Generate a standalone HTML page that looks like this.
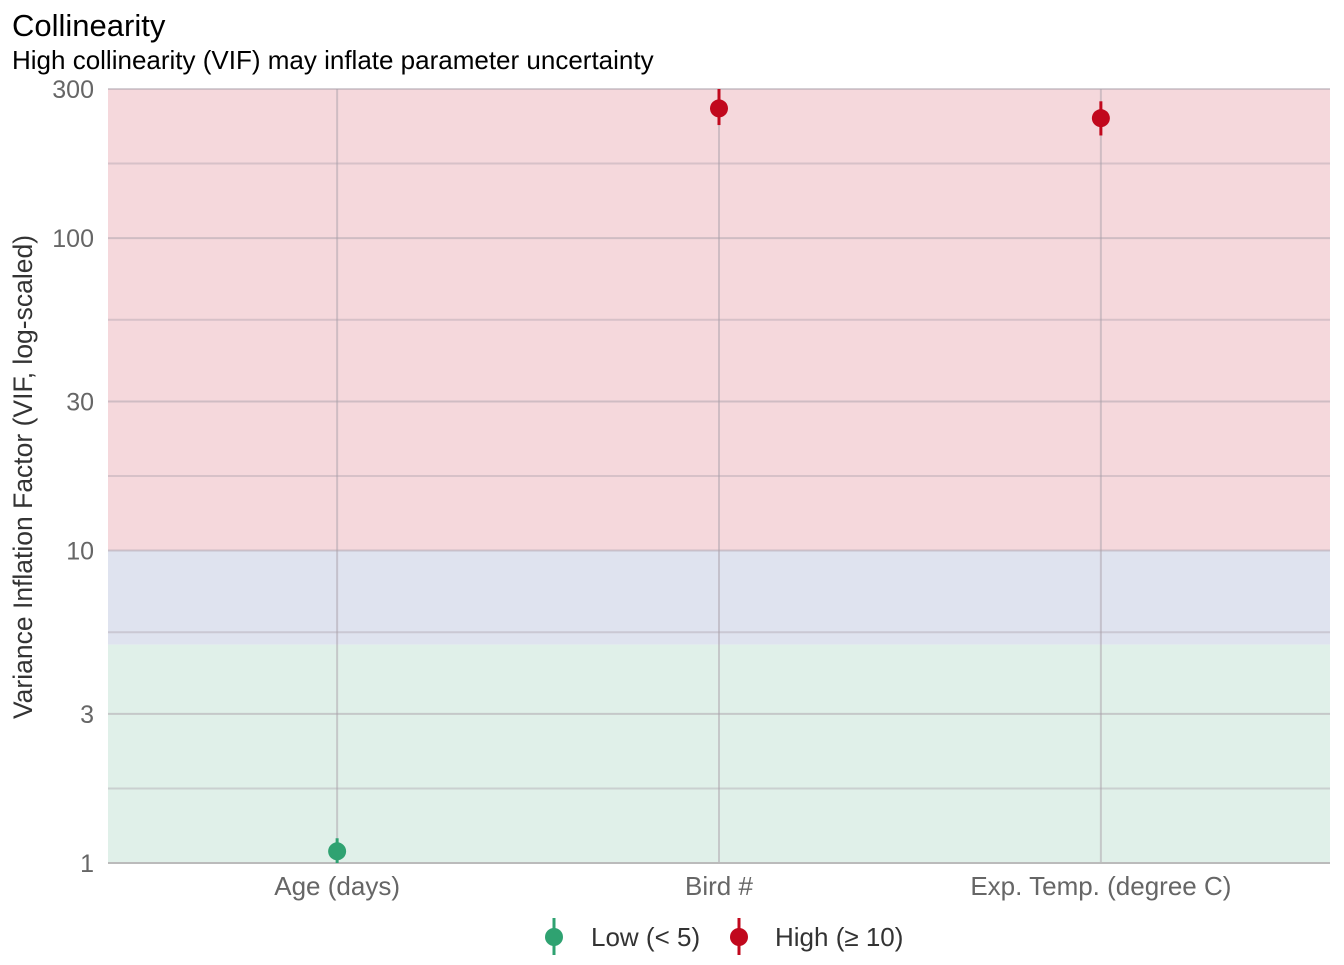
<!DOCTYPE html>
<html><head><meta charset="utf-8"><style>
body{margin:0;background:#fff;font-family:"Liberation Sans",Arial,sans-serif}
svg text{font-family:"Liberation Sans",Arial,sans-serif}
</style></head><body>
<svg id="chart" width="1344" height="960" viewBox="0 0 1344 960">
<text x="12" y="36" font-size="31" fill="#000">Collinearity</text>
<text x="12" y="69" font-size="26" fill="#000">High collinearity (VIF) may inflate parameter uncertainty</text>
<g id="plot"></g>
<text transform="translate(32,477) rotate(-90)" text-anchor="middle" font-size="26.5" fill="#333">Variance Inflation Factor (VIF, log-scaled)</text>
<g>
 <g>
  <line x1="554" y1="918" x2="554" y2="955" stroke="#2fa271" stroke-width="3"/>
  <circle cx="554" cy="937" r="9" fill="#2fa271"/>
  <text x="591" y="946" font-size="26" fill="#333">Low (&lt; 5)</text>
 </g>
 <g>
  <line x1="739" y1="918" x2="739" y2="955" stroke="#c1081d" stroke-width="3"/>
  <circle cx="739" cy="937" r="9" fill="#c1081d"/>
  <text x="775" y="946" font-size="26" fill="#333">High (≥ 10)</text>
 </g>
</g>
</svg>
<script>
const categories=["Age (days)","Bird #","Exp. Temp. (degree C)"];
const vif=[1.09,260,242];
const ciLow=[1.0,230,213];
const ciHigh=[1.2,300,274];
const groups=["low","high","high"];
const yTicks=[1,3,10,30,100,300];
const yMinor=[Math.sqrt(3),Math.sqrt(30),Math.sqrt(300),Math.sqrt(3000),Math.sqrt(30000)];
const bands=[[1,5,"#e0f0e9"],[5,10,"#dfe3ef"],[10,300,"#f5d8dc"]];
const L=108,R=1330,T=89,B=863;
const yMin=1,yMax=300;
function y(v){return B-(Math.log10(v)-Math.log10(yMin))/(Math.log10(yMax)-Math.log10(yMin))*(B-T);}
function x(i){const u=(R-L)/(categories.length-1+1.2);return L+(i+0.6)*u;}
const NS="http://www.w3.org/2000/svg";
const g=document.getElementById("plot");
function mk(tag,attrs,parent){const e=document.createElementNS(NS,tag);for(const k in attrs)e.setAttribute(k,attrs[k]);(parent||g).appendChild(e);return e;}
bands.forEach((b,i)=>{const r=mk("rect",{x:L,y:y(b[1]),width:R-L,height:y(b[0])-y(b[1]),fill:b[2]});

});
yMinor.forEach(v=>{const l=mk("line",{x1:L,x2:R,y1:y(v),y2:y(v),stroke:"rgba(170,160,170,0.4)","stroke-width":2});

});
yTicks.forEach(v=>{const l=mk("line",{x1:L,x2:R,y1:y(v),y2:y(v),stroke:"rgba(170,160,170,0.5)","stroke-width":2});


const t=mk("text",{x:94,y:y(v)+9,"text-anchor":"end","font-size":25,fill:"#666"});t.textContent=v;

});
categories.forEach((c,i)=>{const l=mk("line",{x1:x(i),x2:x(i),y1:T,y2:B,stroke:"rgba(170,160,170,0.5)","stroke-width":2});


const t=mk("text",{x:x(i),y:895,"text-anchor":"middle","font-size":26,fill:"#666"});t.textContent=c;

});
const ax=mk("line",{x1:L,x2:R,y1:B,y2:B,stroke:"#bbb","stroke-width":2});


vif.forEach((v,i)=>{const col=groups[i]==="low"?"#2fa271":"#c1081d";
const e=mk("line",{x1:x(i),x2:x(i),y1:Math.max(y(ciHigh[i]),T),y2:Math.min(y(ciLow[i]),B),stroke:col,"stroke-width":3});


const p=mk("circle",{cx:x(i),cy:y(v),r:9,fill:col});

});
</script>
</body></html>
